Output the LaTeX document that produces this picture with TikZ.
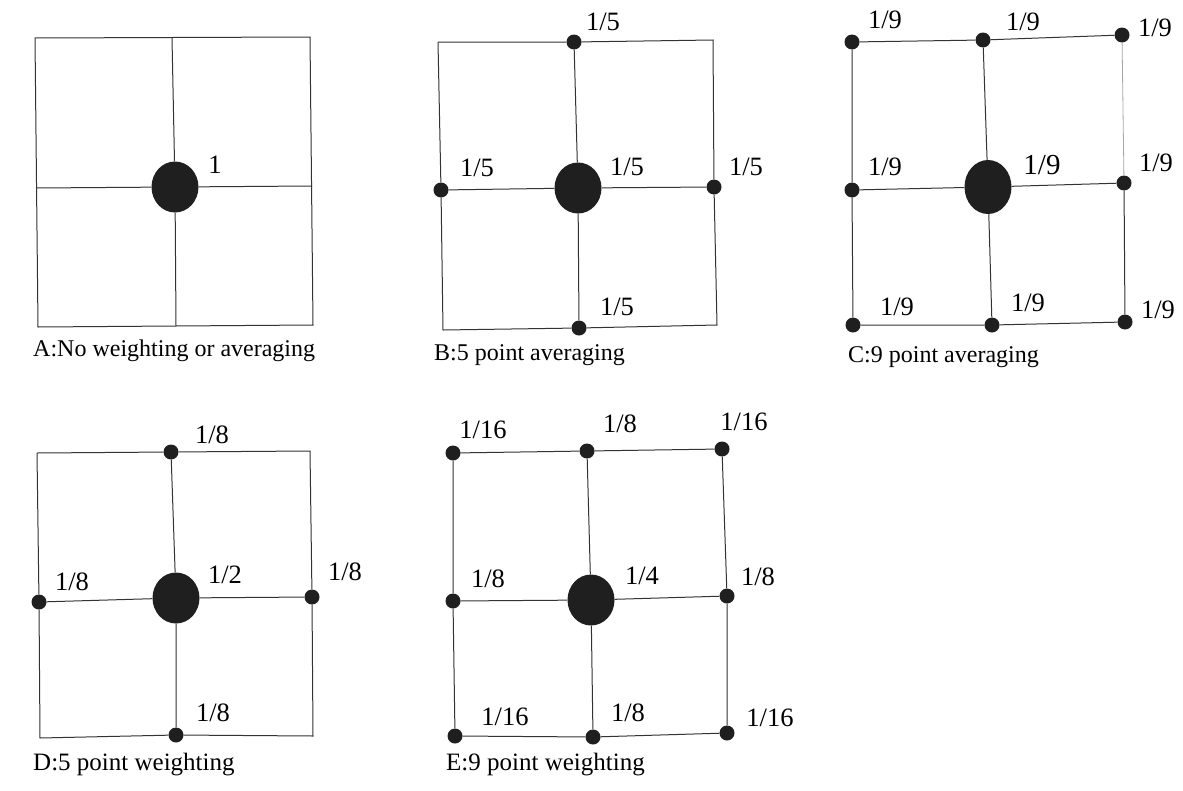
\documentclass[tikz,border=0pt]{standalone}
\usepackage{fontspec}
\setmainfont{Liberation Serif}
\usetikzlibrary{shapes.geometric}
\tikzset{
  grid/.style={line width=1pt, draw=black!80},
  faint/.style={line width=0.8pt, draw=black!35},
  bigdot/.style={ellipse, fill=black!88, draw=none, minimum width=47pt, minimum height=51pt, inner sep=0pt},
  smalldot/.style={circle, fill=black!88, draw=none, minimum size=15pt, inner sep=0pt},
  wlabel/.style={font=\fontsize{26.5}{30}\selectfont, inner sep=0pt},
  caption/.style={font=\fontsize{24}{28}\selectfont, anchor=base west, inner sep=0pt},
}
\begin{document}
\begin{tikzpicture}[x=1pt,y=-1pt]
\useasboundingbox (0,0) rectangle (1183,790);

% ---------- A: no weighting or averaging ----------
\coordinate (a-nw) at (35,38);
\coordinate (a-ne) at (310,37);
\coordinate (a-se) at (313,325);
\coordinate (a-sw) at (38,327);
\coordinate (a-n) at (172,38);
\coordinate (a-s) at (176,326);
\coordinate (a-w) at (36,188);
\coordinate (a-e) at (312,186);
\node[bigdot] (a-c) at (175,187) {};
\draw[grid] (a-nw) -- (a-ne) -- (a-se) -- (a-sw) -- cycle;
\draw[grid] (a-n) -- (a-c) -- (a-s);
\draw[grid] (a-w) -- (a-c) -- (a-e);
\node[wlabel] (a-lc) at (215,165) {1};
\node[caption] (a-cap) at (33,356) {A:No weighting or averaging};

% ---------- B: 5 point averaging ----------
\coordinate (b-nw) at (438,42);
\coordinate (b-ne) at (713,40);
\coordinate (b-se) at (717,325);
\coordinate (b-sw) at (443,330);
\node[smalldot] (b-n) at (574,42) {};
\node[smalldot] (b-w) at (441,190) {};
\node[smalldot] (b-e) at (714,187) {};
\node[smalldot] (b-s) at (579,328) {};
\node[bigdot] (b-c) at (578,188) {};
\draw[grid] (b-nw) -- (b-n) -- (b-ne) -- (b-e) -- (b-se) -- (b-s) -- (b-sw) -- (b-w) -- (b-nw);
\draw[grid] (b-n) -- (b-c) -- (b-s);
\draw[grid] (b-w) -- (b-c) -- (b-e);
\node[wlabel] (b-ln) at (603,22) {1/5};
\node[wlabel] (b-lw) at (477,168) {1/5};
\node[wlabel] (b-lc) at (627,167) {1/5};
\node[wlabel] (b-le) at (746,167) {1/5};
\node[wlabel] (b-ls) at (617,307) {1/5};
\node[caption] (b-cap) at (434,360) {B:5 point averaging};

% ---------- C: 9 point averaging ----------
\node[smalldot] (c-nw) at (852,42) {};
\node[smalldot] (c-n) at (983,40) {};
\node[smalldot] (c-ne) at (1122,35) {};
\node[smalldot] (c-w) at (852,190) {};
\node[smalldot] (c-e) at (1124,183) {};
\node[smalldot] (c-sw) at (853,325) {};
\node[smalldot] (c-s) at (992,325) {};
\node[smalldot] (c-se) at (1125,322) {};
\node[bigdot, minimum height=54pt] (c-c) at (988,187) {};
\draw[grid] (c-nw) -- (c-n) -- (c-ne);
\draw[faint] (c-ne) -- (c-e);
\draw[grid] (c-e) -- (c-se) -- (c-s) -- (c-sw) -- (c-w) -- (c-nw);
\draw[grid] (c-n) -- (c-c) -- (c-s);
\draw[grid] (c-w) -- (c-c) -- (c-e);
\node[wlabel] (c-lnw) at (885,20) {1/9};
\node[wlabel] (c-ln) at (1023,22) {1/9};
\node[wlabel] (c-lne) at (1155,28) {1/9};
\node[wlabel] (c-lw) at (885,167) {1/9};
\node[wlabel, font=\fontsize{29}{33}\selectfont] (c-lc) at (1042,165) {1/9};
\node[wlabel] (c-le) at (1156,163) {1/9};
\node[wlabel] (c-lsw) at (897,307) {1/9};
\node[wlabel] (c-ls) at (1028,303) {1/9};
\node[wlabel] (c-lse) at (1158,310) {1/9};
\node[caption] (c-cap) at (848,362) {C:9 point averaging};

% ---------- D: 5 point weighting ----------
\coordinate (d-nw) at (37,453);
\coordinate (d-ne) at (310,451);
\coordinate (d-se) at (313,736);
\coordinate (d-sw) at (40,738);
\node[smalldot] (d-n) at (171,452) {};
\node[smalldot] (d-w) at (39,602) {};
\node[smalldot] (d-e) at (312,597) {};
\node[smalldot] (d-s) at (176,735) {};
\node[bigdot] (d-c) at (176,598) {};
\draw[grid] (d-nw) -- (d-n) -- (d-ne) -- (d-e) -- (d-se) -- (d-s) -- (d-sw) -- (d-w) -- (d-nw);
\draw[grid] (d-n) -- (d-c) -- (d-s);
\draw[grid] (d-w) -- (d-c) -- (d-e);
\node[wlabel] (d-ln) at (212,435) {1/8};
\node[wlabel] (d-lw) at (72,582) {1/8};
\node[wlabel] (d-lc) at (225,575) {1/2};
\node[wlabel] (d-le) at (345,572) {1/8};
\node[wlabel] (d-ls) at (213,713) {1/8};
\node[caption, font=\fontsize{25}{29}\selectfont] (d-cap) at (33,770) {D:5 point weighting};

% ---------- E: 9 point weighting ----------
\node[smalldot] (e-nw) at (453,453) {};
\node[smalldot] (e-n) at (587,451) {};
\node[smalldot] (e-ne) at (722,449) {};
\node[smalldot] (e-w) at (453,601) {};
\node[smalldot] (e-e) at (727,596) {};
\node[smalldot] (e-sw) at (455,736) {};
\node[smalldot] (e-s) at (593,737) {};
\node[smalldot] (e-se) at (727,733) {};
\node[bigdot] (e-c) at (591,600) {};
\draw[grid] (e-nw) -- (e-n) -- (e-ne) -- (e-e) -- (e-se) -- (e-s) -- (e-sw) -- (e-w) -- (e-nw);
\draw[grid] (e-n) -- (e-c) -- (e-s);
\draw[grid] (e-w) -- (e-c) -- (e-e);
\node[wlabel] (e-lnw) at (483,430) {1/16};
\node[wlabel] (e-ln) at (620,424) {1/8};
\node[wlabel] (e-lne) at (744,422) {1/16};
\node[wlabel] (e-lw) at (488,579) {1/8};
\node[wlabel] (e-lc) at (642,576) {1/4};
\node[wlabel] (e-le) at (758,577) {1/8};
\node[wlabel] (e-lsw) at (505,717) {1/16};
\node[wlabel] (e-ls) at (628,713) {1/8};
\node[wlabel] (e-lse) at (770,718) {1/16};
\node[caption, font=\fontsize{25}{29}\selectfont] (e-cap) at (446,770) {E:9 point weighting};
\end{tikzpicture}
\end{document}
